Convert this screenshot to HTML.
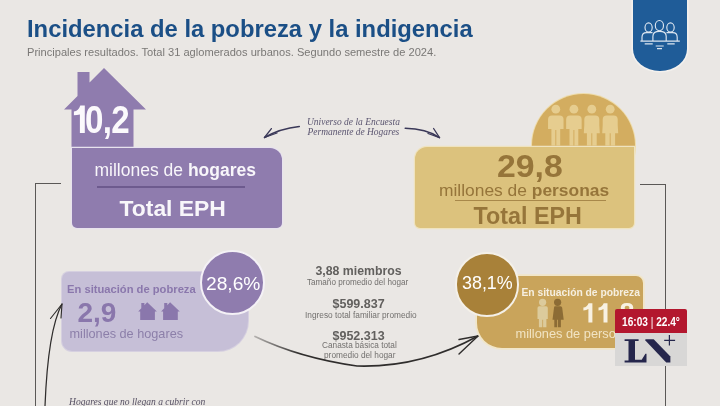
<!DOCTYPE html>
<html><head><meta charset="utf-8">
<style>
*{margin:0;padding:0;box-sizing:border-box}
html,body{width:720px;height:406px;overflow:hidden;background:#eae7e4}
body{position:relative;font-family:"Liberation Sans",sans-serif}
.a{position:absolute;white-space:nowrap}
.t{position:absolute;white-space:nowrap;line-height:1}
</style></head><body><div id="wrap" style="position:absolute;left:0;top:0;width:720px;height:406px;filter:blur(0.4px)">

<!-- title -->
<div class="t" id="title" style="left:27px;top:17px;font-size:23.8px;font-weight:700;color:#1b4f86">Incidencia de la pobreza y la indigencia</div>
<div class="t" id="sub" style="left:27px;top:46.7px;font-size:11.1px;color:#7a7876">Principales resultados. Total 31 aglomerados urbanos. Segundo semestre de 2024.</div>

<!-- blue badge -->
<div class="a" style="left:633px;top:-30px;width:53.6px;height:100.6px;background:#1f5c98;border-radius:0 0 26.8px 26.8px / 0 0 22px 22px;box-shadow:0 0 0 1.6px #f3f1ee"></div>
<svg class="a" style="left:632px;top:0" width="55" height="71" viewBox="0 0 55 71">
 <g fill="none" stroke="#dde6f0" stroke-width="1.15">
  <ellipse cx="16.6" cy="27.5" rx="3.6" ry="4.6"/>
  <ellipse cx="27.4" cy="25.6" rx="4.1" ry="5.1"/>
  <ellipse cx="38.5" cy="27.5" rx="3.7" ry="4.6"/>
  <path d="M10 41 V37.2 Q10 32.6 14.5 32.6 H20.5"/>
  <path d="M20.9 41 V36.2 Q20.9 31.4 27.5 31.4 Q34.2 31.4 34.2 36.2 V41"/>
  <path d="M45.2 41 V37.2 Q45.2 32.6 40.7 32.6 H34.5"/>
  <path d="M8.4 41.1 H47.8"/>
  <path d="M12.7 43.8 H20.7 M35.3 43.8 H42.7 M23.7 46 H31.7 M25 48.6 H30"/>
 </g>
</svg>

<!-- purple house -->
<svg class="a" style="left:0;top:0" width="300" height="240" viewBox="0 0 300 240">
 <path d="M104 68 L146 109.5 L133.5 109.5 L133.5 148 L71.5 148 L71.5 109.5 L64 109.5 L77.5 96 L77.5 72 L89.5 72 L89.5 82.5 Z" fill="#8f7cae"/>
</svg>
<svg class="a" style="left:0;top:0" width="140" height="140" viewBox="0 0 140 140"><path d="M80.3 105.4 H84.8 V133 H79.9 V114.4 Q77 115.2 73.9 115.2 V111.4 Q78.5 111 80.3 105.4 Z" fill="#fbf9fc"/></svg>
<div class="t" style="left:85.3px;top:100px;font-size:39px;font-weight:700;color:#fbf9fc;transform-origin:0 0;transform:scaleX(0.85);letter-spacing:-0.8px">0,2</div>

<!-- purple box -->
<div class="a" style="left:71.5px;top:147.6px;width:210px;height:80px;background:#8f7cae;border-radius:0 12px 5px 5px;box-shadow:0 0 0 1.2px #e8e3ee"></div>
<div class="t" style="left:94.5px;top:161.5px;font-size:17.5px;color:#f8f6fa">millones de <b>hogares</b></div>
<div class="a" style="left:97px;top:186px;width:148px;height:1.6px;background:#6d5a8e"></div>
<div class="t" style="left:119.5px;top:197px;font-size:22.9px;font-weight:700;color:#f8f6fa">Total EPH</div>

<!-- script text -->
<div class="t" style="left:306.8px;top:116.5px;font-family:'Liberation Serif',serif;font-style:italic;font-size:10.2px;color:#5b5570;line-height:10.2px;text-align:center;transform-origin:0 0;transform:scaleX(0.93)">Universo de la Encuesta<br>Permanente de Hogares</div>
<svg class="a" style="left:0;top:0" width="720" height="406" viewBox="0 0 720 406">
 <g fill="none" stroke="#3a3858" stroke-width="1.3" stroke-linecap="round">
  <path d="M299.3 126.5 Q280 128.5 264.5 137.5" stroke-width="1.5"/>
  <path d="M264.5 137.5 L271.4 128.6 M264.5 137.5 L277 133"/>
  <path d="M405.2 128.3 Q426 128.5 439.5 137.6" stroke-width="1.5"/>
  <path d="M439.5 137.6 L433.6 128.5 M439.5 137.6 L428 133.5"/>
 </g>
</svg>

<!-- brackets -->
<div class="a" style="left:35px;top:182.5px;width:26px;height:1.3px;background:#5a5856"></div>
<div class="a" style="left:35px;top:182.5px;width:1.3px;height:230px;background:#5a5856"></div>
<div class="a" style="left:640px;top:184px;width:25.6px;height:1.3px;background:#5a5856"></div>
<div class="a" style="left:664.5px;top:184px;width:1.3px;height:230px;background:#5a5856"></div>

<!-- gold dome -->
<div class="a" style="left:531.5px;top:94px;width:103px;height:103px;border-radius:50%;background:#d3ad60;box-shadow:0 0 0 1px #eedcaa"></div>
<svg class="a" style="left:535px;top:95px" width="110" height="55" viewBox="0 0 110 55">
 <g fill="#e6cd8f"><circle cx="20.8" cy="14.2" r="4.4"/><path d="M13.05 34 V24.4 Q13.05 20.4 17.05 20.4 H24.55 Q28.55 20.4 28.55 24.4 V34 H25.200000000000003 V50.5 H21.3 V35 H20.3 V50.5 H16.4 V34 Z"/><circle cx="38.9" cy="14.2" r="4.4"/><path d="M31.15 34 V24.4 Q31.15 20.4 35.15 20.4 H42.65 Q46.65 20.4 46.65 24.4 V34 H43.3 V50.5 H39.4 V35 H38.4 V50.5 H34.5 V34 Z"/><circle cx="56.8" cy="14.2" r="4.4"/><path d="M49.3 30 V24.4 Q49.3 20.4 53.3 20.4 H60.3 Q64.3 20.4 64.3 24.4 V30 L64.8 38.2 H61.699999999999996 V50.5 H57.3 V38.2 H56.3 V50.5 H51.9 V38.2 H48.8 L49.3 30 Z"/><circle cx="75.2" cy="14.2" r="4.4"/><path d="M67.7 30 V24.4 Q67.7 20.4 71.7 20.4 H78.7 Q82.7 20.4 82.7 24.4 V30 L83.2 38.2 H80.10000000000001 V50.5 H75.7 V38.2 H74.7 V50.5 H70.3 V38.2 H67.2 L67.7 30 Z"/></g>
</svg>

<!-- gold box -->
<div class="a" style="left:415px;top:146.8px;width:219px;height:81.5px;background:#dcc27d;border-radius:12px 0 5px 5px;box-shadow:0 0 0 1.2px #efe3bf"></div>
<div class="t" style="left:497px;top:150.5px;font-size:31px;font-weight:700;color:#96753a;transform-origin:0 0;transform:scaleX(1.09)">29,8</div>
<div class="t" style="left:439px;top:181.8px;font-size:17.4px;color:#96753a">millones de <b>personas</b></div>
<div class="a" style="left:455px;top:199.6px;width:151px;height:1.6px;background:#a8884a"></div>
<div class="t" style="left:473.5px;top:204.6px;font-size:23.3px;font-weight:700;color:#96753a">Total EPH</div>

<!-- light purple box -->
<div class="a" style="left:62px;top:271.5px;width:185.5px;height:79px;background:#c6bfd7;border-radius:7px 0 30px 10px;box-shadow:0 0 0 1px #d6d0e0"></div>
<div class="t" style="left:67px;top:284.3px;font-size:11.2px;font-weight:700;color:#8a77ac">En situación de pobreza</div>
<div class="t" style="left:77.5px;top:299px;font-size:28px;font-weight:700;color:#8a77ac">2,9</div>
<svg class="a" style="left:137px;top:301px" width="45" height="20" viewBox="0 0 45 20">
 <g fill="#8a77ac"><path d="M10.2 1.2 L19.9 10.6 H17.9 V19.1 H3.2 V10.6 H1.2 L4.3 7.36 V2 H7.4 V4.13 Z"/><path d="M33.099999999999994 1.2 L42.8 10.6 H40.8 V19.1 H26.099999999999998 V10.6 H24.099999999999998 L27.2 7.36 V2 H30.299999999999997 V4.13 Z"/></g>
</svg>
<div class="t" style="left:69.5px;top:327.6px;font-size:12.7px;color:#8c7fa9">millones de hogares</div>
<div class="a" style="left:199.5px;top:250.3px;width:65px;height:65px;border-radius:50%;background:#8f7cae;border:2.2px solid #f4f1f6"></div>
<div class="t" style="left:206px;top:274px;font-size:19.2px;color:#fff">28,6%</div>

<!-- middle stats -->


<div class="t" style="left:315.5px;top:265.2px;font-size:12.3px;font-weight:700;color:#62605e">3,88 miembros</div>
<div class="t" style="left:307px;top:278.5px;font-size:8.15px;color:#72706e">Tamaño promedio del hogar</div>
<div class="t" style="left:332.5px;top:297.6px;font-size:12.5px;font-weight:700;color:#62605e">$599.837</div>
<div class="t" style="left:305px;top:311px;font-size:8.3px;color:#72706e">Ingreso total familiar promedio</div>
<div class="t" style="left:332.5px;top:330.4px;font-size:12.5px;font-weight:700;color:#62605e">$952.313</div>
<div class="t" style="left:322px;top:342.3px;font-size:8.25px;color:#72706e">Canasta básica total</div>
<div class="t" style="left:324px;top:350.5px;font-size:8.3px;color:#72706e">promedio del hogar</div>

<!-- arrows bottom -->
<svg class="a" style="left:0;top:0" width="720" height="406" viewBox="0 0 720 406">
 <g fill="none" stroke="#2f2d2c" stroke-linecap="round">
  <defs><linearGradient id="sw" gradientUnits="userSpaceOnUse" x1="255" y1="0" x2="300" y2="0"><stop offset="0" stop-color="#2f2d2c" stop-opacity="0.3"/><stop offset="1" stop-color="#2f2d2c" stop-opacity="1"/></linearGradient></defs><path d="M255 336.5 Q300 358 357 366 Q420 368 478 336" stroke-width="1.7" stroke="url(#sw)"/>
  <path d="M478 336 L459 339.5 M478 336 L459 354" stroke-width="1.4"/>
  <path d="M45 406 Q48 330 62 304" stroke-width="1.25"/>
  <path d="M62 304 L50.5 318.5 M62 304 L61 318" stroke-width="1.15"/>
 </g>
</svg>

<!-- gold poverty box -->
<div class="a" style="left:477px;top:276.3px;width:166px;height:72px;background:#c9a45b;border-radius:0 7px 6px 25px;box-shadow:0 0 0 1.8px #f1e6c9"></div>
<div class="a" style="left:454.5px;top:252px;width:64.5px;height:64.5px;border-radius:50%;background:#a88139;border:2.2px solid #f4f0e8"></div>
<div class="t" style="left:462px;top:275.3px;font-size:17.9px;color:#fff">38,1%</div>
<div class="t" style="left:521.5px;top:288px;font-size:10.3px;font-weight:700;color:#f6efe0">En situación de pobreza</div>
<svg class="a" style="left:535px;top:297px" width="34" height="32" viewBox="0 0 34 32">
 <g fill="#dccb9c"><circle cx="7.6" cy="5.3" r="3.6"/><path d="M2.5 10.9 Q2.5 9.2 4.2 9.2 H11.1 Q12.8 9.2 12.8 10.9 V22 H11.4 V30.2 H8.1 V22.8 H7.3 V30.2 H3.9 V22 H2.5 Z"/></g>
 <g fill="#8c6c35"><circle cx="22.6" cy="5.3" r="3.6"/><path d="M19.7 9.2 H25.5 Q27 9.2 27.2 10.7 L28.7 22.7 H25.9 V30.2 H23 V22.7 H22.2 V30.2 H19.3 V22.7 H17.5 L19 10.7 Q19.2 9.2 19.7 9.2 Z"/></g>
</svg>
<svg class="a" style="left:580px;top:300px" width="40" height="26" viewBox="0 0 40 26"><g fill="#f8f1e2"><path d="M8.6 3.2 H12.4 V22.4 H8.4 V9 Q6.5 10.3 3.4 10.6 V7.6 Q7 7.2 8.6 3.2 Z"/><path d="M23.7 3.2 H27.5 V22.4 H23.5 V9 Q21.6 10.3 18.5 10.6 V7.6 Q22.1 7.2 23.7 3.2 Z"/></g></svg>
<div class="t" style="left:619.5px;top:299.6px;font-size:27px;font-weight:700;color:#f8f1e2">8</div>
<div class="t" style="left:515.5px;top:328px;font-size:12.8px;color:#f1e4c4">millones de personas</div>

<!-- bottom script -->
<div class="t" style="left:69px;top:397.2px;font-family:'Liberation Serif',serif;font-style:italic;font-size:10.6px;color:#554f62;transform-origin:0 0;transform:scaleX(0.9)">Hogares que no llegan a cubrir con</div>

<!-- LN+ logo -->
<div class="a" style="left:614.8px;top:309px;width:72px;height:24px;background:#b3172e;border-radius:2px 2px 0 0"></div>
<div class="t" style="left:622px;top:316px;font-size:12.5px;font-weight:700;color:#fff;transform-origin:0 0;transform:scaleX(0.81)">16:03 <span style="font-weight:400">|</span> 22.4°</div>
<div class="a" style="left:614.8px;top:333px;width:72px;height:33px;background:#d8d7d6"></div>
<svg class="a" style="left:614.8px;top:333px" width="72" height="33" viewBox="0 0 72 33">
 <g fill="#25264c">
  <path d="M9.6 6.2 H23.6 V8 H20 V26.8 H26.7 L30.4 20.8 H31.5 V29.4 H9.6 V27.6 H13.5 V8 H9.6 Z"/>
  <path d="M30.4 6.2 H38.7 L55.4 23.6 V29.4 H51.2 L30.4 7.6 Z"/>
  <path d="M53.8 2 H55 V6.7 H60.1 V7.9 H55 V12.5 H53.8 V7.9 H49.2 V6.7 H53.8 Z"/>
 </g>
</svg>

</div></body></html>
